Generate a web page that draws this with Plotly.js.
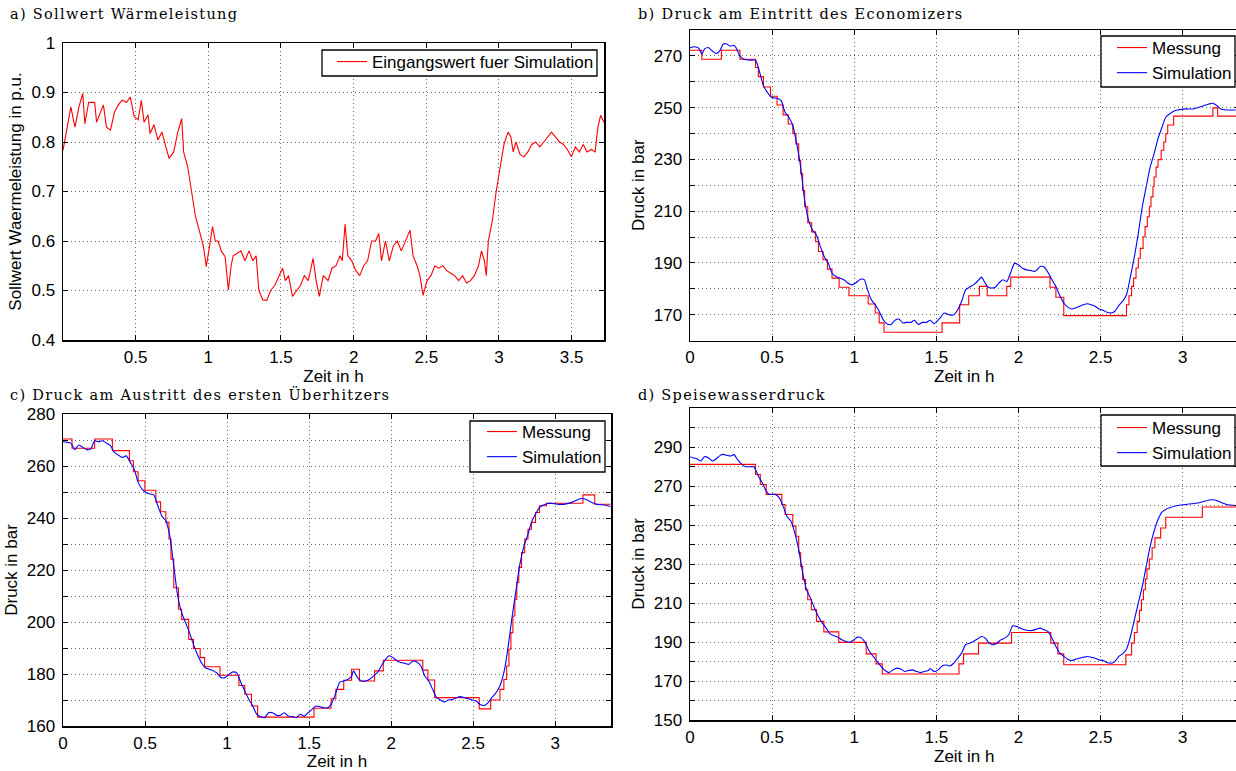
<!DOCTYPE html>
<html>
<head>
<meta charset="utf-8">
<script src="https://cdn.plot.ly/plotly-3.0.1.min.js"></script>
<style>
html,body{margin:0;padding:0;overflow:hidden;background:#fff;}
#chart{width:1240px;height:771px;}
</style>
</head>
<body>
<div id="chart"></div>
<script>
// ---------- Data ----------
// a) Sollwert Wärmeleistung
const tA = [0.000,0.027,0.054,0.082,0.109,0.136,0.150,0.177,0.218,0.231,
0.259,0.278,0.299,0.327,0.354,0.381,0.408,0.436,0.463,0.476,
0.490,0.517,0.539,0.558,0.585,0.599,0.626,0.653,0.681,0.708,
0.730,0.762,0.790,0.817,0.830,0.858,0.885,0.912,0.939,0.967,
0.986,1.002,1.029,1.048,1.067,1.089,1.116,1.138,1.157,1.171,
1.198,1.225,1.252,1.280,1.307,1.329,1.348,1.375,1.402,1.429,
1.457,1.484,1.511,1.530,1.552,1.579,1.606,1.634,1.661,1.688,
1.721,1.742,1.764,1.791,1.824,1.851,1.879,1.906,1.922,1.941,
1.960,1.987,2.015,2.042,2.069,2.096,2.124,2.151,2.173,2.192,
2.219,2.246,2.273,2.301,2.328,2.355,2.388,2.409,2.437,2.456,
2.478,2.505,2.532,2.559,2.586,2.614,2.641,2.668,2.695,2.723,
2.750,2.777,2.804,2.831,2.859,2.880,2.900,2.913,2.927,2.954,
2.981,3.009,3.036,3.063,3.082,3.098,3.117,3.145,3.172,3.199,
3.226,3.253,3.281,3.308,3.335,3.362,3.390,3.417,3.444,3.471,
3.498,3.526,3.553,3.580,3.607,3.635,3.662,3.681,3.700,3.722];
const sollwert = [0.783,0.83,0.871,0.83,0.87,0.898,0.837,0.88,0.88,0.84,
0.86,0.875,0.83,0.824,0.86,0.875,0.885,0.88,0.891,0.87,
0.851,0.845,0.884,0.84,0.855,0.817,0.835,0.804,0.82,0.79,
0.767,0.78,0.82,0.847,0.78,0.75,0.703,0.649,0.62,0.588,
0.548,0.58,0.629,0.6,0.6,0.58,0.568,0.501,0.55,0.57,
0.575,0.58,0.56,0.58,0.56,0.57,0.5,0.481,0.48,0.5,
0.51,0.528,0.545,0.52,0.53,0.488,0.5,0.51,0.53,0.52,
0.565,0.52,0.488,0.53,0.52,0.545,0.55,0.57,0.56,0.634,
0.57,0.56,0.54,0.53,0.55,0.56,0.6,0.6,0.615,0.56,
0.6,0.56,0.59,0.6,0.58,0.6,0.622,0.57,0.55,0.53,
0.49,0.52,0.53,0.55,0.545,0.55,0.54,0.535,0.53,0.52,
0.53,0.515,0.52,0.53,0.55,0.58,0.56,0.53,0.6,0.64,
0.7,0.75,0.797,0.82,0.81,0.78,0.8,0.775,0.77,0.78,
0.795,0.8,0.79,0.8,0.81,0.82,0.81,0.8,0.795,0.785,
0.77,0.79,0.78,0.795,0.78,0.785,0.78,0.83,0.854,0.84];

// b) Druck am Eintritt des Economizers
const tB_mess = [0,0.072,0.191,0.304,0.399,0.416,0.447,0.490,0.530,0.567,
0.598,0.626,0.645,0.662,0.674,0.686,0.698,0.717,0.741,0.765,
0.782,0.810,0.837,0.865,0.908,0.968,1.085,1.128,1.152,1.181,
1.535,1.642,1.697,1.762,1.810,1.929,1.953,2.192,2.228,2.276,
2.658,2.673,2.689,2.701,2.716,2.730,2.742,2.759,2.771,2.785,
2.797,2.807,2.819,2.826,2.838,2.850,2.869,2.885,2.897,2.909,
2.945,3.184,3.213,3.34];
const pB_mess = [272.2,268.7,272.2,268.7,265.5,262,258,254.4,251,247.2,
243.7,240,236,229.6,224.5,218,211.7,205.5,202,198.2,
194.4,191.2,187.6,184.1,180.6,177.3,174.1,170.6,166.8,163.2,
166.8,173.8,177.3,180.9,177.3,180.9,184.5,180.6,176.7,169.6,
173.8,177.3,180.9,184.1,188,191.8,195.6,200.1,204,207.8,
211.7,215.5,219.4,223.2,227,229.9,233.5,236.7,239.9,243.3,
246.7,249.9,246.7,246.7];
const tB_sim = [0,0.029,0.053,0.072,0.088,0.112,0.136,0.160,0.184,0.201,
0.220,0.244,0.268,0.280,0.304,0.328,0.363,0.399,0.416,0.447,
0.471,0.495,0.531,0.555,0.579,0.602,0.626,0.650,0.674,0.698,
0.722,0.746,0.770,0.794,0.818,0.842,0.865,0.889,0.913,0.937,
0.961,0.985,1.009,1.038,1.061,1.081,1.104,1.128,1.152,1.176,
1.200,1.224,1.248,1.272,1.296,1.320,1.344,1.367,1.391,1.415,
1.439,1.463,1.487,1.523,1.547,1.583,1.606,1.630,1.654,1.678,
1.702,1.726,1.750,1.774,1.786,1.810,1.834,1.858,1.881,1.905,
1.929,1.953,1.977,2.001,2.025,2.049,2.073,2.097,2.113,2.132,
2.156,2.180,2.204,2.228,2.252,2.276,2.300,2.324,2.348,2.372,
2.395,2.419,2.443,2.467,2.491,2.515,2.539,2.563,2.587,2.611,
2.634,2.658,2.682,2.706,2.730,2.754,2.778,2.802,2.826,2.850,
2.874,2.897,2.921,2.945,2.969,3.017,3.065,3.113,3.160,3.184,
3.208,3.232,3.268,3.323];
const pB_sim = [273.2,273.5,273,270.6,272.6,273.2,271.9,270.9,272.2,274.5,
274.7,273.8,274,273.2,270,268.7,268.3,268.3,265.5,258.5,
255.9,254,253.6,252.7,248.2,246.3,243.1,236,227,214.2,
206.5,202.7,200.8,196.3,192.4,189.9,186,184.7,184.1,183.5,
182.2,181.5,182.2,183.7,183.5,179.6,175.8,173.8,171.3,168.1,
166.4,166.2,167.8,168.3,166.8,167,167,167.8,166.2,167,
167,167.8,166.5,168.7,170.6,169.9,169.9,171.9,175.1,179.6,
180.6,181.5,182.8,184.5,183.5,180.9,180.3,180.6,182.2,183.5,
182.8,186.3,189.9,189.2,187.9,187.3,187.1,186.7,187.3,188.6,
188.4,186.3,183.5,180.9,177.3,174.5,172.9,172.2,172.6,173.2,
173.8,174.2,173.8,173.2,172.2,171.7,170.9,170.6,171.3,173.5,
175.1,177.7,184.7,192.4,201.4,211.7,219.4,227,232.2,238,
242.4,246.3,247.6,248.6,249.1,249.5,249.5,250.4,251.4,251.7,
250.8,249.5,249.1,249.1];

// c) Druck am Austritt des ersten Überhitzers
const tC_mess = [0,0.055,0.193,0.301,0.405,0.429,0.458,0.499,0.566,0.595,
0.627,0.646,0.658,0.675,0.704,0.723,0.766,0.795,0.836,0.863,
0.957,1.072,1.108,1.149,1.186,1.530,1.634,1.663,1.711,1.759,
1.807,1.899,1.952,2.193,2.224,2.265,2.537,2.607,2.663,2.687,
2.704,2.718,2.730,2.742,2.754,2.766,2.778,2.795,2.814,2.834,
2.855,2.880,2.904,2.947,3.169,3.241,3.337];
const pC_mess = [270.4,266.8,270.4,265.9,262,257.8,254.3,250.7,246.2,242.4,
238.3,231.9,224.2,213.2,204.9,201,193.3,189.8,186.3,182.8,
179.5,175.6,172.2,167.7,163.4,166.8,170.5,174.1,177.6,181.8,
177.3,181.2,185.3,181.5,177.7,170.9,166.6,170,174.1,177.9,
183.1,189.5,195.9,202.3,208.8,215.2,221,226.7,231.9,235.7,
238.3,242.1,244.7,245.7,248.9,245.3,245.3];
const tC_sim = [0,0.024,0.048,0.072,0.096,0.120,0.145,0.169,0.193,0.217,
0.241,0.265,0.289,0.313,0.337,0.361,0.386,0.410,0.434,0.458,
0.482,0.506,0.530,0.554,0.578,0.602,0.627,0.651,0.675,0.699,
0.723,0.747,0.771,0.795,0.819,0.843,0.867,0.892,0.916,0.940,
0.964,0.988,1.012,1.036,1.060,1.084,1.108,1.133,1.157,1.181,
1.205,1.229,1.253,1.277,1.301,1.325,1.349,1.373,1.398,1.422,
1.446,1.470,1.494,1.518,1.542,1.566,1.590,1.614,1.639,1.663,
1.687,1.711,1.735,1.759,1.771,1.795,1.819,1.843,1.867,1.892,
1.916,1.940,1.964,1.988,2.012,2.036,2.060,2.084,2.108,2.133,
2.157,2.181,2.205,2.229,2.253,2.277,2.301,2.325,2.349,2.373,
2.398,2.422,2.446,2.470,2.494,2.518,2.542,2.566,2.590,2.614,
2.639,2.663,2.687,2.711,2.735,2.759,2.783,2.807,2.831,2.855,
2.880,2.904,2.928,2.964,3.012,3.060,3.108,3.157,3.181,3.217,
3.253,3.301,3.337];
const pC_sim = [269.3,269.1,268.8,266.3,268.1,267.2,266.3,266.5,269.7,269.3,
269.7,268.8,267.8,265.2,264.2,263.3,263.9,261.4,258.8,253.7,
251.1,249.8,249.2,248.8,244.7,240.8,238.9,233.1,221.6,210,
203.6,199.8,195.9,191.4,187.6,184.4,182.4,181.8,181.2,180.3,
178.6,178.6,179.9,180.8,180.3,176.7,173.5,170.2,167.7,164.5,
163.6,163.2,165.1,165.1,164.1,164.1,165.1,163.8,163.6,163.2,
164.5,163.8,165.1,166.4,167.7,167.4,167,167,168.9,172.8,
176.9,177.3,177.9,179.2,181.2,178.6,177.3,177.3,177.9,179.2,
180.5,183.1,185.4,187,186.3,185,184.4,184.1,183.7,185,
184.6,183.1,179.2,177.3,174.1,170.9,170,169.2,170,170.2,
170.9,171.3,170.9,170.5,170,169.6,168.3,167.9,168.9,170.9,
172.8,175.4,180.5,189.5,201,211.3,221.6,228.6,233.1,238.3,
241.5,244.1,245,245.7,245.3,245.3,246.2,247.5,247.3,246.2,
245.3,245,244.4];

// d) Speisewasserdruck
const tD_mess = [0,0.399,0.428,0.464,0.559,0.579,0.626,0.645,0.662,0.674,
0.686,0.703,0.717,0.739,0.770,0.815,0.906,1.073,1.133,1.171,
1.638,1.666,1.757,1.958,2.197,2.240,2.276,2.654,2.689,2.706,
2.723,2.737,2.749,2.761,2.773,2.783,2.797,2.814,2.831,2.866,
2.897,3.120,3.34];
const pD_mess = [281.1,275.9,270.8,265.7,260.5,255.4,249.4,244.2,235.7,228.8,
222,216.8,211.7,206.6,200.6,195.2,189.8,183.9,178.8,173.6,
178.8,183.9,189.4,194.9,189.4,183.9,178.3,183.4,189.4,194.9,
200.6,206.2,211.7,216.8,222.3,227.5,232.6,238.3,243.4,248.5,
254,259.2,259.2];
const tD_sim = [0,0.017,0.041,0.065,0.088,0.112,0.136,0.160,0.184,0.201,
0.225,0.249,0.268,0.292,0.316,0.339,0.363,0.387,0.399,0.416,
0.440,0.464,0.483,0.519,0.543,0.567,0.590,0.614,0.638,0.662,
0.686,0.710,0.734,0.758,0.782,0.806,0.830,0.853,0.877,0.901,
0.925,0.949,0.973,0.997,1.021,1.045,1.069,1.093,1.116,1.140,
1.164,1.188,1.212,1.236,1.260,1.284,1.308,1.332,1.356,1.379,
1.403,1.427,1.451,1.463,1.487,1.511,1.535,1.559,1.583,1.606,
1.630,1.654,1.678,1.702,1.726,1.750,1.774,1.798,1.822,1.846,
1.869,1.893,1.917,1.941,1.965,1.989,2.013,2.037,2.061,2.085,
2.109,2.132,2.156,2.180,2.204,2.228,2.252,2.276,2.300,2.324,
2.348,2.372,2.395,2.419,2.443,2.467,2.491,2.515,2.539,2.563,
2.587,2.611,2.634,2.658,2.682,2.706,2.730,2.754,2.778,2.802,
2.826,2.850,2.874,2.897,2.921,2.969,3.017,3.065,3.113,3.160,
3.196,3.232,3.268,3.323];
const pD_sim = [285,284.5,284,282.8,285,284.5,282.8,284,285.7,286.2,
285.7,285.4,286.1,283.3,281.1,279.9,279.9,279.9,278.5,275.1,
271.7,267.4,265.7,265.7,264,259.7,254.5,252,246,237.4,
225.4,216.8,212.5,207.4,203.1,199.7,197.1,194.2,193.2,192.5,
191.1,190.3,189.8,191.1,192.5,192,189.4,185.1,182.6,180,
177.4,175.4,174.3,175.7,176.6,176.1,174.9,175.4,175.7,174.9,
174.3,174.9,175.4,176.4,174.8,175.7,177.7,178.2,177.7,179.1,
181.7,184.3,188.6,189.4,190.3,191.5,192.8,192,189.4,188.6,
189.4,191.1,192,193.7,198.3,198,197.1,196.3,195.9,195.9,
196.6,197.1,196.3,195.4,192,187.7,184.3,182.6,181.2,180.5,
181.2,181.7,182.2,182.6,182.2,181.7,180.9,180.5,179.5,179.1,
180,182.6,183.9,186.3,192.8,201.4,210,218.5,228.8,239.1,
246.8,252.8,256.6,258,258.8,260,260.5,261,261.7,262.8,
262.8,261.7,260.5,260];

// Tick values / labels
const xTicksA = [0.5,1,1.5,2,2.5,3,3.5];
const xLabelsA = ['0.5','1','1.5','2','2.5','3','3.5'];
const yTicksA = [0.4,0.5,0.6,0.7,0.8,0.9,1];
const yLabelsA = ['0.4','0.5','0.6','0.7','0.8','0.9','1'];
const xTicksP = [0,0.5,1,1.5,2,2.5,3];
const xLabelsP = ['0','0.5','1','1.5','2','2.5','3'];
const yTicksB = [160,170,180,190,200,210,220,230,240,250,260,270,280];
const yLabelsB = ['','170','','190','','210','','230','','250','','270',''];
const yTicksC = [160,170,180,190,200,210,220,230,240,250,260,270,280];
const yLabelsC = ['160','','180','','200','','220','','240','','260','','280'];
const yTicksD = [150,160,170,180,190,200,210,220,230,240,250,260,270,280,290,300,310];
const yLabelsD = ['150','','170','','190','','210','','230','','250','','270','','290','',''];

const titles = ['a) Sollwert Wärmeleistung','b) Druck am Eintritt des Economizers',
                'c) Druck am Austritt des ersten Überhitzers','d) Speisewasserdruck'];

// ---------- Layout helpers ----------
const W = 1240, H = 771;
const SANS = 'Liberation Sans, Arial, Helvetica, sans-serif';
const px = v => v / W;
const py = v => (H - v) / H;

function xAxis(l, r, range, tv, tt, anchor) {
  return {
    domain: [px(l), px(r)], range: range, anchor: anchor,
    tickmode: 'array', tickvals: tv, ticktext: tt,
    ticks: 'inside', ticklen: 5, tickwidth: 1, tickcolor: '#000',
    showline: true, linecolor: '#000', linewidth: 1.5, mirror: 'ticks',
    showgrid: true, gridcolor: '#6a6a6a', griddash: '1px,3px', gridwidth: 1,
    zeroline: false, tickfont: {family: SANS, size: 17, color: '#000'},
    ticklabelstandoff: 1,
    title: {text: 'Zeit in h', font: {family: SANS, size: 17, color: '#000'}, standoff: 0}
  };
}
function yAxis(b, t, range, tv, tt, anchor, title) {
  return {
    domain: [py(b), py(t)], range: range, anchor: anchor,
    tickmode: 'array', tickvals: tv, ticktext: tt,
    ticks: 'inside', ticklen: 5, tickwidth: 1, tickcolor: '#000',
    showline: true, linecolor: '#000', linewidth: 1.5, mirror: 'ticks',
    showgrid: true, gridcolor: '#6a6a6a', griddash: '1px,3px', gridwidth: 1,
    zeroline: false, tickfont: {family: SANS, size: 17, color: '#000'},
    ticklabelstandoff: 3,
    title: {text: title, font: {family: SANS, size: 17, color: '#000'}, standoff: 5}
  };
}
function legendAt(right, top) {
  return {
    x: px(right), y: py(top), xanchor: 'right', yanchor: 'top',
    xref: 'paper', yref: 'paper',
    bgcolor: 'rgba(0,0,0,0)', borderwidth: 0,
    font: {family: SANS, size: 17, color: '#000'},
    tracegroupgap: 0, itemwidth: 30
  };
}
// legend frames [left, top, right, bottom] in page pixels
const legendFrames = [[322, 50, 597, 76], [1101, 36, 1235, 87], [470, 421, 605, 472], [1101, 415, 1235, 466]];
const shapes = legendFrames.map(f => ({
  type: 'rect', xref: 'paper', yref: 'paper', layer: 'above',
  x0: px(f[0]), x1: px(f[2]), y0: py(f[3]), y1: py(f[1]),
  fillcolor: '#fff', line: {color: '#000', width: 1.3}
}));

const RED = '#ff0000', BLUE = '#0000ff';
const traces = [
  {x: tA, y: sollwert, type: 'scatter', mode: 'lines', name: 'Eingangswert fuer Simulation',
   line: {color: RED, width: 1.1}, xaxis: 'x', yaxis: 'y', legend: 'legend'},
  {x: tB_mess, y: pB_mess, type: 'scatter', mode: 'lines', name: 'Messung',
   line: {color: RED, width: 1.1, shape: 'hv'}, xaxis: 'x2', yaxis: 'y2', legend: 'legend2'},
  {x: tB_sim, y: pB_sim, type: 'scatter', mode: 'lines', name: 'Simulation',
   line: {color: BLUE, width: 1.1, shape: 'spline', smoothing: 0.6}, xaxis: 'x2', yaxis: 'y2', legend: 'legend2'},
  {x: tC_mess, y: pC_mess, type: 'scatter', mode: 'lines', name: 'Messung',
   line: {color: RED, width: 1.1, shape: 'hv'}, xaxis: 'x3', yaxis: 'y3', legend: 'legend3'},
  {x: tC_sim, y: pC_sim, type: 'scatter', mode: 'lines', name: 'Simulation',
   line: {color: BLUE, width: 1.1, shape: 'spline', smoothing: 0.6}, xaxis: 'x3', yaxis: 'y3', legend: 'legend3'},
  {x: tD_mess, y: pD_mess, type: 'scatter', mode: 'lines', name: 'Messung',
   line: {color: RED, width: 1.1, shape: 'hv'}, xaxis: 'x4', yaxis: 'y4', legend: 'legend4'},
  {x: tD_sim, y: pD_sim, type: 'scatter', mode: 'lines', name: 'Simulation',
   line: {color: BLUE, width: 1.1, shape: 'spline', smoothing: 0.6}, xaxis: 'x4', yaxis: 'y4', legend: 'legend4'}
];

const SERIF = 'DejaVu Serif, Liberation Serif, serif';
const titlePos = [[8, 14], [636, 14], [8, 395], [636, 395]];
const annotations = titles.map((t, i) => ({
  text: t, xref: 'paper', yref: 'paper', x: px(titlePos[i][0]), y: py(titlePos[i][1]),
  xanchor: 'left', yanchor: 'middle', showarrow: false,
  font: {family: SERIF, size: 14.5, color: '#000'}
}));

const layout = {
  width: W, height: H, margin: {l: 0, r: 0, t: 0, b: 0},
  paper_bgcolor: '#fff', plot_bgcolor: '#fff', showlegend: true,
  xaxis:  xAxis(63, 604, [0, 3.723], xTicksA, xLabelsA, 'y'),
  yaxis:  yAxis(340, 43, [0.4, 1], yTicksA, yLabelsA, 'x', 'Sollwert Waermeleistung in p.u.'),
  xaxis2: xAxis(690, 1238.5, [0, 3.34], xTicksP, xLabelsP, 'y2'),
  yaxis2: yAxis(340.5, 30, [160, 280], yTicksB, yLabelsB, 'x2', 'Druck in bar'),
  xaxis3: xAxis(63, 611, [0, 3.34], xTicksP, xLabelsP, 'y3'),
  yaxis3: yAxis(726, 414, [160, 280], yTicksC, yLabelsC, 'x3', 'Druck in bar'),
  xaxis4: xAxis(690, 1238.5, [0, 3.34], xTicksP, xLabelsP, 'y4'),
  yaxis4: yAxis(720, 408, [150, 310], yTicksD, yLabelsD, 'x4', 'Druck in bar'),
  legend:  legendAt(599, 44),
  legend2: legendAt(1237, 30),
  legend3: legendAt(607, 414),
  legend4: legendAt(1237, 410),
  shapes: shapes,
  annotations: annotations
};

Plotly.newPlot('chart', traces, layout, {staticPlot: true, displayModeBar: false}).then(() => {
  // widen the serif panel titles (LaTeX-like spacing) while keeping their left edge fixed
  document.querySelectorAll('.annotation-text').forEach(el => {
    const w0 = el.getBBox().width;
    el.style.letterSpacing = '1.3px';
    const w1 = el.getBBox().width;
    const prev = el.getAttribute('transform') || '';
    el.setAttribute('transform', prev + ' translate(' + ((w1 - w0) / 2) + ',0)');
  });
});
</script>
</body>
</html>
